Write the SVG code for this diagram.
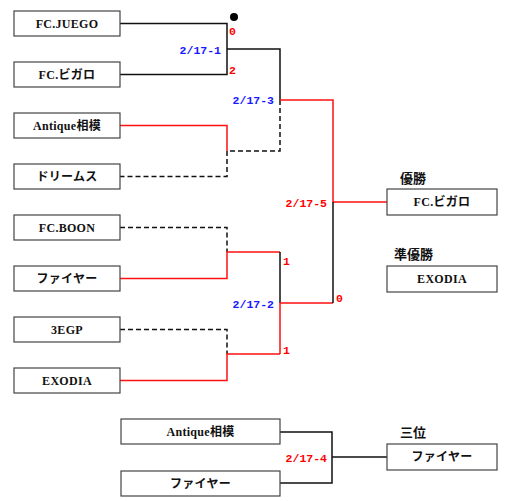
<svg xmlns="http://www.w3.org/2000/svg" width="510" height="501" viewBox="0 0 510 501">
<style>
.box{fill:#fff;stroke:#444;stroke-width:1.2}
.bt{font-family:"Liberation Serif","Noto Sans CJK JP",serif;font-weight:bold;font-size:12px;fill:#111;text-anchor:middle;letter-spacing:0.3px}
.hd{font-family:"Noto Sans CJK JP",sans-serif;font-weight:bold;font-size:13px;fill:#111}
.lb{font-family:"Liberation Mono",monospace;font-weight:bold;font-size:11.5px}
.bl{fill:#1a1aff}
.rd{fill:#ff0000}
.k{fill:none;stroke:#111;stroke-width:1.5}
.r{fill:none;stroke:#ff1010;stroke-width:1.5}
.d{fill:none;stroke:#111;stroke-width:1.5;stroke-dasharray:5 3}
</style>
<rect width="510" height="501" fill="#fff"/>
<g id="connectors">
<path class="k" d="M120 23.5H227V74.5H120M227 49H280V100"/>
<path class="d" d="M280 100V151H227"/>
<path class="r" d="M120 125.5H227V151"/>
<path class="d" d="M227 151V176.5H120"/>
<path class="d" d="M120 227.5H227V252"/>
<path class="r" d="M280 252H227V278.5H120"/>
<path class="d" d="M120 329.5H227V354"/>
<path class="r" d="M280 354H227V380.5H120"/>
<path class="k" d="M280 252V303"/>
<path class="r" d="M280 303V354M280 303H333"/>
<path class="r" d="M280 100H333V202H387"/>
<path class="k" d="M333 202V303"/>
<path class="k" d="M280 432H332V483H280M332 457H387"/>
<circle cx="234" cy="17" r="4" fill="#000"/>
</g>
<g id="n1"><rect class="box" x="14" y="11" width="106" height="25"/><text class="bt" x="67" y="27.5">FC.JUEGO</text></g>
<g id="n2"><rect class="box" x="14" y="62" width="106" height="25"/><text class="bt" x="67" y="78.5">FC.ビガロ</text></g>
<g id="n3"><rect class="box" x="14" y="113" width="106" height="25"/><text class="bt" x="67" y="129.5">Antique相模</text></g>
<g id="n4"><rect class="box" x="14" y="164" width="106" height="25"/><text class="bt" x="67" y="180.5">ドリームス</text></g>
<g id="n5"><rect class="box" x="14" y="215" width="106" height="25"/><text class="bt" x="67" y="231.5">FC.BOON</text></g>
<g id="n6"><rect class="box" x="14" y="266" width="106" height="25"/><text class="bt" x="67" y="282.5">ファイヤー</text></g>
<g id="n7"><rect class="box" x="14" y="317" width="106" height="25"/><text class="bt" x="67" y="333.5">3EGP</text></g>
<g id="n8"><rect class="box" x="14" y="368" width="106" height="25"/><text class="bt" x="67" y="384.5">EXODIA</text></g>
<g id="n9"><rect class="box" x="121" y="419" width="159" height="25"/><text class="bt" x="200.5" y="435.5">Antique相模</text></g>
<g id="n10"><rect class="box" x="121" y="471" width="159" height="25"/><text class="bt" x="200.5" y="487.5">ファイヤー</text></g>
<g id="w1"><text class="hd" x="400" y="183">優勝</text><rect class="box" x="387" y="189" width="110" height="26"/><text class="bt" x="442" y="206">FC.ビガロ</text></g>
<g id="w2"><text class="hd" x="394" y="259">準優勝</text><rect class="box" x="387" y="266" width="110" height="26"/><text class="bt" x="442" y="283">EXODIA</text></g>
<g id="w3"><text class="hd" x="400" y="437">三位</text><rect class="box" x="387" y="444" width="110" height="26"/><text class="bt" x="442" y="461">ファイヤー</text></g>
<g id="labels">
<text class="lb rd" x="229" y="35">0</text>
<text class="lb rd" x="229" y="74">2</text>
<text class="lb bl" x="221" y="54" text-anchor="end">2/17-1</text>
<text class="lb bl" x="274" y="104" text-anchor="end">2/17-3</text>
<text class="lb rd" x="327" y="207" text-anchor="end">2/17-5</text>
<text class="lb rd" x="283" y="265">1</text>
<text class="lb rd" x="283" y="354">1</text>
<text class="lb bl" x="274" y="308" text-anchor="end">2/17-2</text>
<text class="lb rd" x="336" y="302">0</text>
<text class="lb rd" x="327" y="462" text-anchor="end">2/17-4</text>
</g>
</svg>
